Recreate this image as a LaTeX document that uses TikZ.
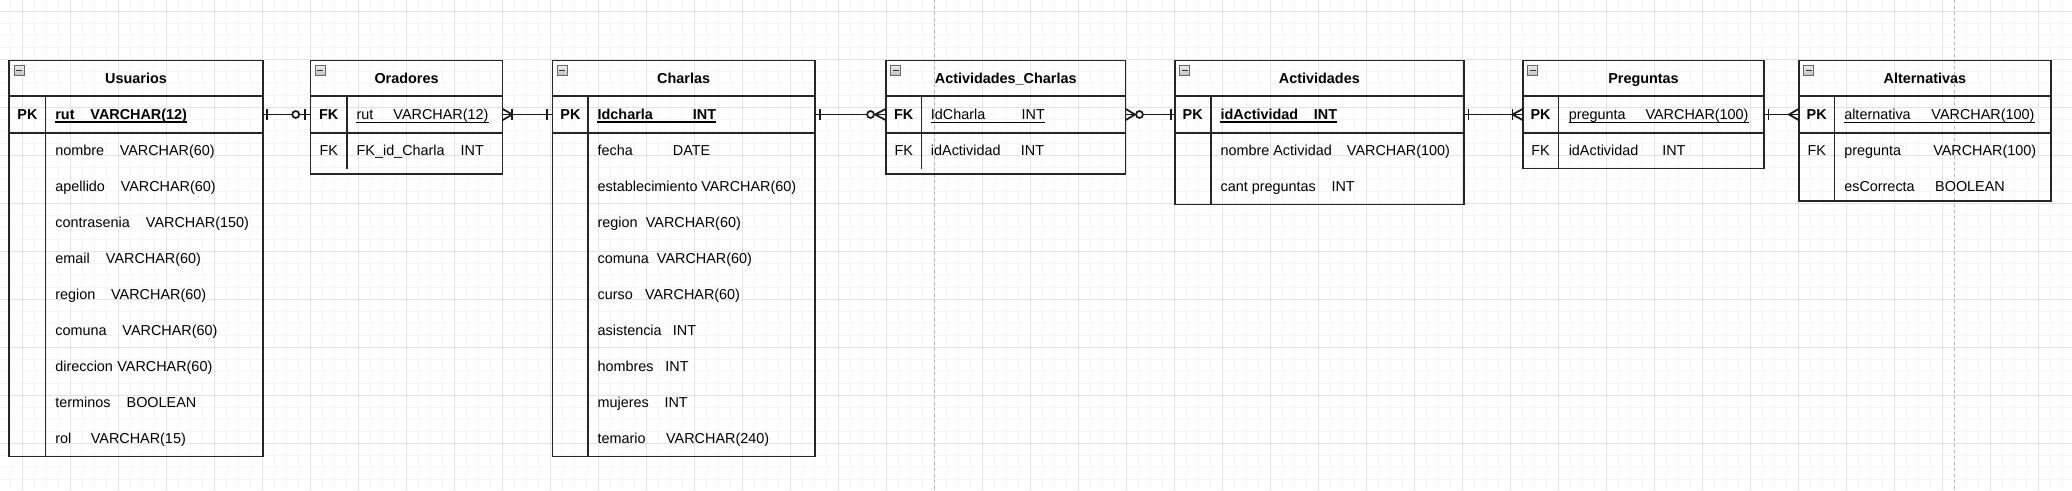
\documentclass[tikz,border=0pt]{standalone}
\usepackage{fontspec}
\setmainfont{Liberation Sans}
\usetikzlibrary{calc,fit}
\tikzset{
  gminor/.style={draw=gray!7, line width=0.75pt},
  gmajor/.style={draw=gray!22, line width=0.75pt},
  pgbreak/.style={draw=gray!60, line width=0.75pt, dash pattern=on 2.25pt off 2.25pt},
  tbl/.style={draw=black!85, line width=1.3pt, inner sep=0pt, rectangle},
  rowbox/.style={draw=none, inner sep=0pt, rectangle},
  sep/.style={draw=black!85, line width=1.3pt},
  conn/.style={draw=black!90, line width=1.3pt},
  icon/.style={draw=black!60, line width=0.6pt, top color=gray!15, bottom color=gray!50},
  icondash/.style={draw=black!80, line width=0.9pt},
  txt/.style={inner sep=0pt, anchor=base west, font=\fontsize{10.8}{13}\selectfont, text=black},
  ttl/.style={inner sep=0pt, anchor=base, font=\fontsize{10.8}{13}\selectfont\bfseries, text=black},
  keyl/.style={inner sep=0pt, anchor=base, font=\fontsize{10.8}{13}\selectfont, text=black},
  ul/.style={draw=black, line width=0.8pt},
}
\newcommand\ERbar[2]{\draw[conn] ($(#1)+(#2,-5.5)$) -- ($(#1)+(#2,5.5)$);}
\newcommand\ERcirc[2]{\draw[conn,fill=white] ($(#1)+(#2,0)$) circle[radius=2.6pt];}
\newcommand\ERcrow[3]{\draw[conn] ($(#1)+(#3,-5.5)$) -- ($(#1)+(#2,0)$) -- ($(#1)+(#3,5.5)$);}
\newcommand\ERicon[1]{%
  \draw[icon] ($(#1.north west)+(5.7,6)$) rectangle ($(#1.north west)+(15.7,16)$);
  \draw[icondash] ($(#1.north west)+(7.7,11)$) -- ($(#1.north west)+(13.7,11)$);}
% name, left, right, bottom, divider x, divider end, title
\newcommand\ERtable[7]{%
  \node[tbl, fit={(#2,60.5) (#3,#4)}] (#1) {};
  \node[rowbox, fit={(#2,96.5) (#3,132.5)}] (#1pk) {};
  \draw[sep] (#1pk.north west) -- (#1pk.north east);
  \draw[sep] (#1pk.south west) -- (#1pk.south east);
  \draw[sep] (#5,96.5) -- (#5,#6);
  \node[ttl] (#1title) at ({(#2+#3)/2},83.5) {#7};
  \ERicon{#1}}
% name, x1, baseline, text1, x2, text2
\newcommand\ERfield[6]{%
  \node[txt] (#1a) at (#2,#3) {#4};
  \node[txt] (#1b) at (#5,#3) {#6};}
\newcommand\ERul[2]{\draw[ul, line width=#2] ($(#1a.base west)+(0,2.4)$) -- ($(#1b.base east)+(0,2.4)$);}
\begin{document}
\begin{tikzpicture}[x=0.75pt, y=-0.75pt]
\useasboundingbox (0,0) rectangle (2072,490);
\fill[white] (0,0) rectangle (2072,490);
% grid
\foreach \gx in {10.3,22.3,...,2072} {\draw[gminor] (\gx,0) -- (\gx,490);}
\foreach \gy in {-0.7,11.3,...,490} {\draw[gminor] (0,\gy) -- (2072,\gy);}
\foreach \gx in {22.3,70.3,...,2072} {\draw[gmajor] (\gx,0) -- (\gx,490);}
\foreach \gy in {11.3,59.3,...,490} {\draw[gmajor] (0,\gy) -- (2072,\gy);}
\draw[pgbreak] (934.3,0) -- (934.3,490);
\draw[pgbreak] (1954.3,0) -- (1954.3,490);

% ---------- Usuarios
\ERtable{usu}{9.3}{262.7}{456.5}{45.5}{456.5}{Usuarios}
\node[keyl, font=\fontsize{10.8}{13}\selectfont\bfseries] (usuk0) at (27.4,119.7) {PK};
\ERfield{usu0}{55.1}{119.7}{\bfseries rut}{90.2}{\bfseries VARCHAR(12)}
\ERul{usu0}{1.1pt}
\ERfield{usu1}{55.1}{155.7}{nombre}{119.5}{VARCHAR(60)}
\ERfield{usu2}{55.1}{191.7}{apellido}{120.5}{VARCHAR(60)}
\ERfield{usu3}{55.1}{227.7}{contrasenia}{145.7}{VARCHAR(150)}
\ERfield{usu4}{55.1}{263.7}{email}{105.7}{VARCHAR(60)}
\ERfield{usu5}{55.1}{299.7}{region}{110.9}{VARCHAR(60)}
\ERfield{usu6}{55.1}{335.7}{comuna}{122.2}{VARCHAR(60)}
\ERfield{usu7}{55.1}{371.7}{direccion}{117.1}{VARCHAR(60)}
\ERfield{usu8}{55.1}{407.7}{terminos}{126.4}{BOOLEAN}
\ERfield{usu9}{55.1}{443.7}{rol}{90.6}{VARCHAR(15)}

% ---------- Oradores
\ERtable{ora}{310.6}{502.5}{174.3}{346.8}{168.5}{Oradores}
\node[keyl, font=\fontsize{10.8}{13}\selectfont\bfseries] (orak0) at (328.7,119.7) {FK};
\ERfield{ora0}{356.4}{119.7}{rut}{393.2}{VARCHAR(12)}
\ERul{ora0}{0.8pt}
\node[keyl] (orak1) at (328.7,155.7) {FK};
\ERfield{ora1}{356.4}{155.7}{FK\_id\_Charla}{460.4}{INT}

% ---------- Charlas
\ERtable{cha}{552.5}{814.7}{456.5}{588.2}{456.5}{Charlas}
\node[keyl, font=\fontsize{10.8}{13}\selectfont\bfseries] (chak0) at (570.4,119.7) {PK};
\ERfield{cha0}{597.4}{119.7}{\bfseries Idcharla}{692.6}{\bfseries INT}
\ERul{cha0}{1.1pt}
\ERfield{cha1}{597.4}{155.7}{fecha}{672.7}{DATE}
\ERfield{cha2}{597.4}{191.7}{establecimiento}{701}{VARCHAR(60)}
\ERfield{cha3}{597.4}{227.7}{region}{645.6}{VARCHAR(60)}
\ERfield{cha4}{597.4}{263.7}{comuna}{656.7}{VARCHAR(60)}
\ERfield{cha5}{597.4}{299.7}{curso}{644.8}{VARCHAR(60)}
\ERfield{cha6}{597.4}{335.7}{asistencia}{672.7}{INT}
\ERfield{cha7}{597.4}{371.7}{hombres}{665.1}{INT}
\ERfield{cha8}{597.4}{407.7}{mujeres}{664.3}{INT}
\ERfield{cha9}{597.4}{443.7}{temario}{665.9}{VARCHAR(240)}

% ---------- Actividades_Charlas
\ERtable{ach}{885.8}{1125.6}{174.3}{921.5}{168.5}{Actividades\_Charlas}
\node[keyl, font=\fontsize{10.8}{13}\selectfont\bfseries] (achk0) at (903.7,119.7) {FK};
\ERfield{ach0}{930.7}{119.7}{IdCharla}{1021.4}{INT}
\ERul{ach0}{0.8pt}
\node[keyl] (achk1) at (903.7,155.7) {FK};
\ERfield{ach1}{930.7}{155.7}{idActividad}{1020.6}{INT}

% ---------- Actividades
\ERtable{act}{1174.7}{1464}{204.5}{1210.7}{204.5}{Actividades}
\node[keyl, font=\fontsize{10.8}{13}\selectfont\bfseries] (actk0) at (1192.7,119.7) {PK};
\ERfield{act0}{1220.3}{119.7}{\bfseries idActividad}{1313.7}{\bfseries INT}
\ERul{act0}{1.1pt}
\ERfield{act1}{1220.3}{155.7}{nombre Actividad}{1346.7}{VARCHAR(100)}
\ERfield{act2}{1220.3}{191.7}{cant preguntas}{1331.3}{INT}

% ---------- Preguntas
\ERtable{pre}{1522.8}{1764.2}{168.5}{1558.4}{168.5}{Preguntas}
\node[keyl, font=\fontsize{10.8}{13}\selectfont\bfseries] (prek0) at (1540.6,119.7) {PK};
\ERfield{pre0}{1568.5}{119.7}{pregunta}{1645.3}{VARCHAR(100)}
\ERul{pre0}{0.8pt}
\node[keyl] (prek1) at (1540.6,155.7) {FK};
\ERfield{pre1}{1568.5}{155.7}{idActividad}{1662}{INT}

% ---------- Alternativas
\ERtable{alt}{1798.8}{2050.9}{201}{1834.5}{201}{Alternativas}
\node[keyl, font=\fontsize{10.8}{13}\selectfont\bfseries] (altk0) at (1816.7,119.7) {PK};
\ERfield{alt0}{1844}{119.7}{alternativa}{1931.2}{VARCHAR(100)}
\ERul{alt0}{0.8pt}
\node[keyl] (altk1) at (1816.7,155.7) {FK};
\ERfield{alt1}{1844}{155.7}{pregunta}{1933}{VARCHAR(100)}
\ERfield{alt2}{1844}{191.7}{esCorrecta}{1934.9}{BOOLEAN}

% ---------- connectors
\draw[conn] (usupk.east) -- (orapk.west);
\ERbar{usupk.east}{4}
\ERbar{orapk.west}{-5.6}
\ERcirc{orapk.west}{-14.6}

\draw[conn] (orapk.east) -- (chapk.west);
\ERcrow{orapk.east}{9.5}{0}
\ERbar{orapk.east}{9.5}
\ERbar{chapk.west}{-5}

\draw[conn] (chapk.east) -- (achpk.west);
\ERbar{chapk.east}{5}
\ERcrow{achpk.west}{-10.5}{0}
\ERcirc{achpk.west}{-15}

\draw[conn] (achpk.east) -- (actpk.west);
\ERcrow{achpk.east}{9}{0}
\ERcirc{achpk.east}{13.6}
\ERbar{actpk.west}{-3.5}

\draw[conn] (actpk.east) -- (prepk.west);
\ERbar{actpk.east}{4.3}
\ERcrow{prepk.west}{-10}{0}
\ERbar{prepk.west}{-10}

\draw[conn] (prepk.east) -- (altpk.west);
\ERbar{prepk.east}{4}
\ERcrow{altpk.west}{-9.5}{0}
\end{tikzpicture}
\end{document}
